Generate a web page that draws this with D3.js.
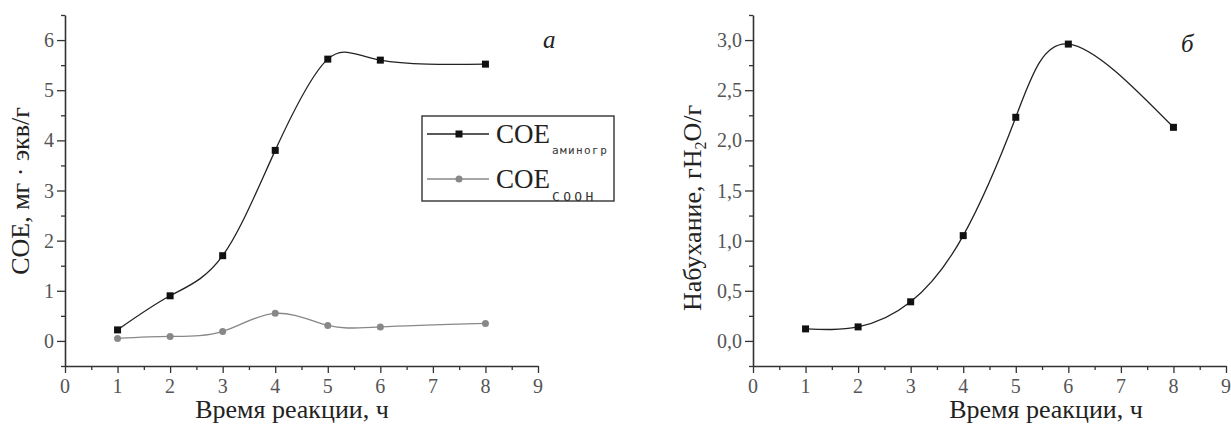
<!DOCTYPE html>
<html>
<head>
<meta charset="utf-8">
<script src="https://cdn.jsdelivr.net/npm/d3@7"></script>
<style>
  body { margin: 0; background: #fff; }
</style>
</head>
<body>
<div id="chart"></div>
<script>
// data
const hours = [1, 2, 3, 4, 5, 6, 8];
const coeAmino = [0.22, 0.9, 1.7, 3.8, 5.62, 5.6, 5.52];
const coeCooh = [0.05, 0.09, 0.19, 0.55, 0.31, 0.28, 0.35];
const swelling = [0.12, 0.14, 0.39, 1.05, 2.23, 2.96, 2.13];

const xTicks = [0, 1, 2, 3, 4, 5, 6, 7, 8, 9];
const xMinor = [0.5, 1.5, 2.5, 3.5, 4.5, 5.5, 6.5, 7.5, 8.5];
const leftTicks = [0, 1, 2, 3, 4, 5, 6];
const leftMinor = [-0.5, 0.5, 1.5, 2.5, 3.5, 4.5, 5.5, 6.5];
const rightTicks = [0, 0.5, 1.0, 1.5, 2.0, 2.5, 3.0];
const rightMinor = [-0.25, 0.25, 0.75, 1.25, 1.75, 2.25, 2.75, 3.25];

const xLabel = "Время реакции, ч";

const width = 1231, height = 425;
const serif = "Liberation Serif";
const mono = "DejaVu Sans Mono";

let svg = d3.select("#chart")
    .append("svg")
        .attr("width", width)
        .attr("height", height)
        .attr("font-family", serif);

function panel(opt) {
    let x = d3.scaleLinear().domain([0, 9]).range([opt.left, opt.left + 473]);
    let y = d3.scaleLinear().domain(opt.yDomain).range([366, 15]);

    let g = svg.append("g");

    // minor ticks
    g.append("g")
        .attr("transform", "translate(0,366)")
        .call(d3.axisBottom(x).tickValues(xMinor).tickSize(4).tickFormat("").tickSizeOuter(0))
        .call(s => s.select(".domain").remove());
    g.append("g")
        .attr("transform", `translate(${opt.left},0)`)
        .call(d3.axisLeft(y).tickValues(opt.minor).tickSize(4).tickFormat("").tickSizeOuter(0))
        .call(s => s.select(".domain").remove());

    // major ticks (labels drawn separately below)
    g.append("g")
        .attr("transform", "translate(0,366)")
        .call(d3.axisBottom(x).tickValues(xTicks).tickSize(7).tickSizeOuter(0).tickFormat(""));
    g.append("g")
        .attr("transform", `translate(${opt.left},0)`)
        .call(d3.axisLeft(y).tickValues(opt.ticks).tickSize(8).tickSizeOuter(0).tickFormat(""));

    g.selectAll(".tick line").attr("stroke", "#333").attr("stroke-width", 1.3);
    g.selectAll(".domain").attr("stroke", "#333").attr("stroke-width", 1.6);

    // tick labels
    g.selectAll(".xlbl")
        .data(xTicks)
        .enter()
        .append("text")
            .attr("x", d => x(d))
            .attr("y", 393)
            .attr("text-anchor", "middle")
            .attr("font-family", serif)
            .attr("font-size", 20)
            .attr("fill", "#555")
            .text(d => d);
    g.selectAll(".ylbl")
        .data(opt.ticks)
        .enter()
        .append("text")
            .attr("x", opt.left - 11)
            .attr("y", d => y(d) + 7)
            .attr("text-anchor", "end")
            .attr("font-family", serif)
            .attr("font-size", 20)
            .attr("fill", "#555")
            .text(opt.fmt);

    // x axis title
    g.append("text")
        .attr("x", opt.xTitleX)
        .attr("y", 418)
        .attr("text-anchor", "middle")
        .attr("font-family", serif)
        .attr("font-size", 26)
        .attr("fill", "#222")
        .text(xLabel);

    // y axis title
    let yt = g.append("text")
        .attr("transform", `translate(${opt.yTitleX},${opt.yTitleY}) rotate(-90)`)
        .attr("text-anchor", "middle")
        .attr("font-family", serif)
        .attr("font-size", 26)
        .attr("fill", "#222");
    opt.yTitle(yt);

    // panel letter
    g.append("text")
        .attr("x", opt.letter[0])
        .attr("y", opt.letter[1])
        .attr("font-family", serif)
        .attr("font-style", "italic")
        .attr("font-size", 25)
        .attr("fill", "#222")
        .text(opt.letter[2]);

    return { x, y, g };
}

const line = (x, y) => d3.line()
    .x(d => x(d[0]))
    .y(d => y(d[1]))
    .curve(d3.curveNatural);

// ---------- panel а ----------
let a = panel({
    left: 65,
    yDomain: [-0.5, 6.5],
    ticks: leftTicks,
    minor: leftMinor,
    fmt: d3.format("d"),
    xTitleX: 292,
    yTitleX: 29,
    yTitleY: 191,
    yTitle: t => t.text("СОЕ, мг · экв/г"),
    letter: [543, 48, "а"]
});

let aminoPts = hours.map((h, i) => [h, coeAmino[i]]);
let coohPts = hours.map((h, i) => [h, coeCooh[i]]);

a.g.append("path")
    .attr("d", line(a.x, a.y)(coohPts))
    .attr("fill", "none")
    .attr("stroke", "#888")
    .attr("stroke-width", 1.4);
a.g.append("path")
    .attr("d", line(a.x, a.y)(aminoPts))
    .attr("fill", "none")
    .attr("stroke", "#222")
    .attr("stroke-width", 1.3);

a.g.selectAll(".amino")
    .data(aminoPts)
    .enter()
    .append("rect")
        .attr("x", d => a.x(d[0]) - 3.5)
        .attr("y", d => a.y(d[1]) - 3.5)
        .attr("width", 7)
        .attr("height", 7)
        .attr("fill", "#111");
a.g.selectAll(".cooh")
    .data(coohPts)
    .enter()
    .append("circle")
        .attr("cx", d => a.x(d[0]))
        .attr("cy", d => a.y(d[1]))
        .attr("r", 3.5)
        .attr("fill", "#888");

// legend
let lg = a.g.append("g");
lg.append("rect")
    .attr("x", 422).attr("y", 116)
    .attr("width", 192).attr("height", 85)
    .attr("fill", "#fff")
    .attr("stroke", "#333")
    .attr("stroke-width", 1.4);
const legendRows = [
    { y: 134, color: "#222", shape: "rect", sub: "аминогр", subSize: 11, subSpace: 1.4, subDy: 11 },
    { y: 179, color: "#888", shape: "circle", sub: "СООН", subSize: 13, subSpace: 3.3, subDy: 13 }
];
legendRows.forEach(r => {
    lg.append("line")
        .attr("x1", 427).attr("x2", 489)
        .attr("y1", r.y).attr("y2", r.y)
        .attr("stroke", r.color).attr("stroke-width", 1.4);
    if (r.shape === "rect") {
        lg.append("rect").attr("x", 455.5).attr("y", r.y - 3.5)
            .attr("width", 7).attr("height", 7).attr("fill", "#111");
    } else {
        lg.append("circle").attr("cx", 459).attr("cy", r.y).attr("r", 3.5).attr("fill", r.color);
    }
    lg.append("text")
        .attr("x", 496)
        .attr("y", r.y + 9)
        .attr("font-family", serif)
        .attr("font-size", 27)
        .attr("fill", "#222")
        .text("СОЕ");
    lg.append("text")
        .attr("x", 552)
        .attr("y", r.y + 9 + r.subDy)
        .attr("font-family", mono)
        .attr("font-size", r.subSize)
        .attr("letter-spacing", r.subSpace)
        .attr("fill", "#333")
        .text(r.sub);
});

// ---------- panel б ----------
let b = panel({
    left: 753,
    yDomain: [-0.25, 3.25],
    ticks: rightTicks,
    minor: rightMinor,
    fmt: d => d3.format(".1f")(d).replace(".", ","),
    xTitleX: 1046,
    yTitleX: 701,
    yTitleY: 208,
    yTitle: t => {
        t.append("tspan").text("Набухание, гН");
        t.append("tspan").attr("font-size", 16).attr("dy", 5).text("2");
        t.append("tspan").attr("dy", -5).text("О/г");
    },
    letter: [1181, 52, "б"]
});

let swellPts = hours.map((h, i) => [h, swelling[i]]);
b.g.append("path")
    .attr("d", line(b.x, b.y)(swellPts))
    .attr("fill", "none")
    .attr("stroke", "#222")
    .attr("stroke-width", 1.3);
b.g.selectAll(".sw")
    .data(swellPts)
    .enter()
    .append("rect")
        .attr("x", d => b.x(d[0]) - 3.5)
        .attr("y", d => b.y(d[1]) - 3.5)
        .attr("width", 7)
        .attr("height", 7)
        .attr("fill", "#111");
</script>
</body>
</html>
